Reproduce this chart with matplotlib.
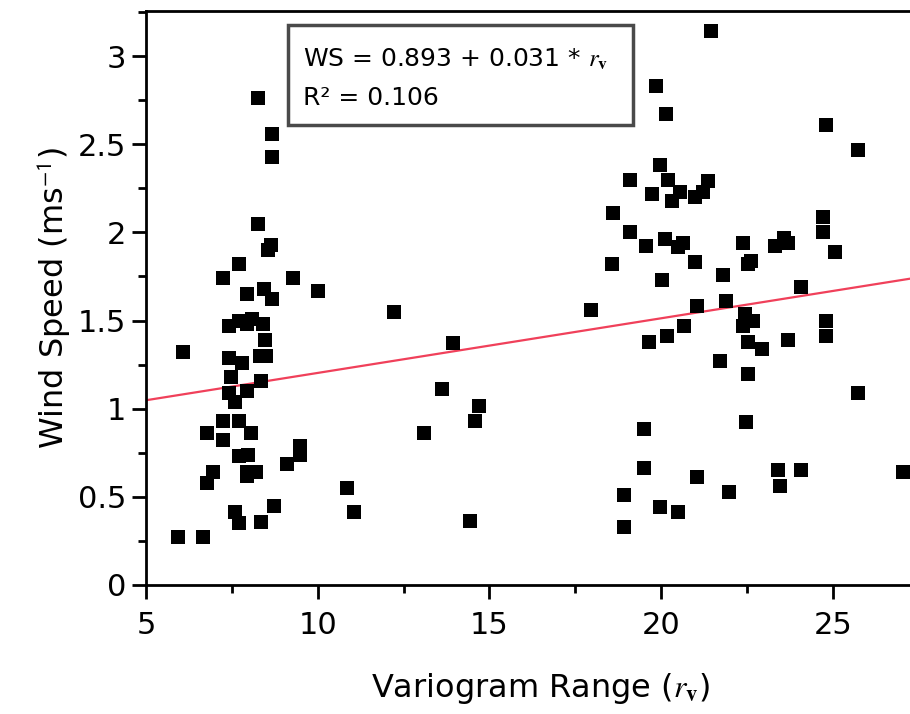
import matplotlib.pyplot as plt
from matplotlib.patches import Rectangle
from matplotlib.ticker import MultipleLocator
import numpy as np

plt.rcParams['font.family'] = ['DejaVu Sans']
plt.rcParams['mathtext.fontset'] = 'stix'

# ===== data =====
range_left = [5.92, 6.67, 6.09, 6.78, 6.78, 6.96, 7.25, 7.25, 7.25,
              7.42, 7.42, 7.47, 7.42, 7.59, 7.59, 7.72, 7.72, 7.79, 7.72,
              7.72, 7.72, 7.95, 7.93, 7.93, 7.96, 7.93, 7.93, 8.07, 8.10,
              8.20, 8.27, 8.27, 8.32, 8.35, 8.34, 8.43, 8.42, 8.46, 8.50,
              8.55, 8.65, 8.66, 8.66, 8.66, 8.73, 9.11, 9.29, 9.48, 9.48,
              10.02]
ws_left = [0.27, 0.27, 1.32, 0.86, 0.58, 0.64, 1.74, 0.93, 0.82,
           1.47, 1.29, 1.18, 1.09, 1.04, 0.415, 1.82, 1.50, 1.26, 0.93,
           0.73, 0.35, 1.65, 1.48, 1.10, 0.74, 0.64, 0.62, 0.86, 1.51,
           0.64, 2.76, 2.05, 1.30, 1.16, 0.36, 1.68, 1.48, 1.39, 1.30,
           1.90, 1.93, 2.56, 2.43, 1.62, 0.45, 0.685, 1.74, 0.79, 0.74,
           1.67]

range_mid = [10.84, 11.07, 12.23, 13.10, 13.63, 13.95, 14.43, 14.57, 14.69, 17.97]
ws_mid = [0.55, 0.415, 1.55, 0.865, 1.11, 1.37, 0.365, 0.93, 1.015, 1.56]

range_right = [18.56, 18.60, 18.92, 18.92, 19.09, 19.09, 19.49, 19.49, 19.57,
               19.64, 19.72, 19.85, 19.96, 19.96, 20.03, 20.11, 20.14, 20.18,
               20.21, 20.30, 20.50, 20.50, 20.55, 20.64, 20.66, 20.98, 20.98,
               21.05, 21.05, 21.22, 21.35, 21.44, 21.71, 21.80, 21.90, 21.98,
               22.37, 22.37, 22.44, 22.46, 22.53, 22.60, 22.53, 22.53, 22.68,
               22.92, 23.31, 23.39, 23.46, 23.58, 23.70, 23.70, 24.06, 24.06,
               24.71, 24.71, 24.79, 24.79, 24.79, 25.06, 25.74, 25.74, 27.05]
ws_right = [1.82, 2.11, 0.51, 0.33, 2.30, 2.00, 0.885, 0.665, 1.925,
            1.38, 2.22, 2.83, 2.38, 0.44, 1.73, 1.96, 2.67, 1.41,
            2.30, 2.18, 1.92, 0.415, 2.23, 1.94, 1.47, 2.20, 1.83,
            1.58, 0.615, 2.23, 2.29, 3.14, 1.27, 1.76, 1.61, 0.53,
            1.94, 1.47, 1.54, 0.925, 1.82, 1.84, 1.38, 1.195, 1.50,
            1.34, 1.925, 0.65, 0.56, 1.97, 1.94, 1.39, 1.69, 0.65,
            2.09, 2.00, 2.61, 1.50, 1.41, 1.89, 2.47, 1.09, 0.64]

intercept = 0.893
slope = 0.031
r_squared = 0.106

rv = np.array(range_left + range_mid + range_right)
ws = np.array(ws_left + ws_mid + ws_right)

# ===== figure =====
fig = plt.figure(figsize=(9.1, 7.14), dpi=100)
ax = fig.add_axes([146 / 910, 129 / 714, 790 / 910, 574 / 714])

ax.scatter(rv, ws, marker='s', s=88, color='black', linewidths=0, zorder=3)

x_fit = np.array([5, 28])
ax.plot(x_fit, intercept + slope * x_fit, color='#f0405a', lw=1.6, zorder=2)

ax.set_xlim(5, 28)
ax.set_ylim(0, 3.256)

ax.xaxis.set_major_locator(MultipleLocator(5))
ax.xaxis.set_minor_locator(MultipleLocator(2.5))
ax.yaxis.set_minor_locator(MultipleLocator(0.25))
ax.set_yticks([0, 0.5, 1, 1.5, 2, 2.5, 3])
ax.set_yticklabels(['0', '0.5', '1', '1.5', '2', '2.5', '3'])

ax.tick_params(which='both', direction='out', width=2, colors='black',
               labelsize=22, top=False, right=False)
ax.tick_params(which='major', length=10)
ax.tick_params(axis='y', which='major', pad=4)
ax.tick_params(axis='x', which='major', pad=9)
ax.tick_params(which='minor', length=6)
for s in ['left', 'bottom', 'top']:
    ax.spines[s].set_linewidth(2)
ax.spines['right'].set_visible(False)

ax.set_ylabel('Wind Speed (ms$^{\\mathsf{-1}}$)', fontsize=23, labelpad=4)
ax.set_xlabel('Variogram Range ($\\mathit{r}_{\\mathbf{v}}$)', fontsize=23, labelpad=22)

# equation box
box = Rectangle((0.18, 0.802), 0.437, 0.174, transform=ax.transAxes,
                facecolor='white', edgecolor='#4a4a4a', lw=2.5, zorder=4)
ax.add_patch(box)
ax.text(0.199, 0.915, 'WS = 0.893 + 0.031 * $\\mathit{r}_{\\mathbf{v}}$',
        transform=ax.transAxes, fontsize=18, va='center', ha='left', zorder=5)
ax.text(0.199, 0.849, f'R² = {r_squared}', transform=ax.transAxes, fontsize=18,
        va='center', ha='left', zorder=5)

plt.savefig('out.png', dpi=100)
